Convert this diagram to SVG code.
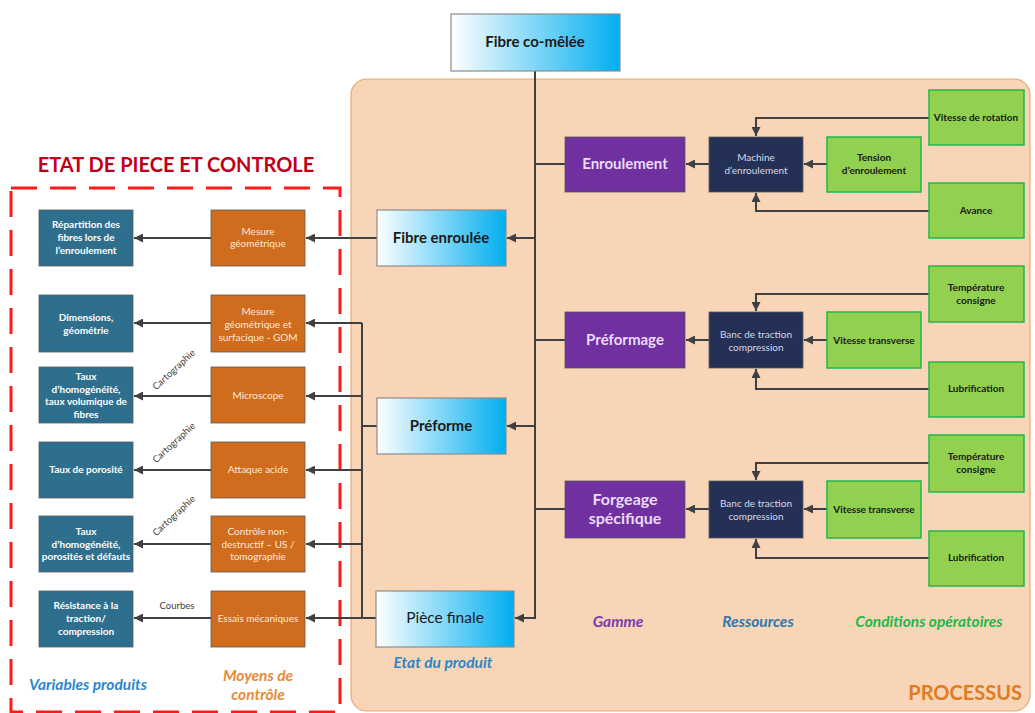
<svg xmlns="http://www.w3.org/2000/svg" width="1035" height="713" viewBox="0 0 1035 713">
<defs>
<linearGradient id="gBlue" x1="0" y1="0" x2="1" y2="0">
<stop offset="0" stop-color="#ffffff"/>
<stop offset="1" stop-color="#00aeef"/>
</linearGradient>
<marker id="arr" markerUnits="userSpaceOnUse" markerWidth="9" markerHeight="9" refX="9" refY="4.5" orient="auto">
<path d="M0,0 L9,4.5 L0,9 z" fill="#404040"/>
</marker>
</defs>
<style>
text{font-family:Lato,"Open Sans","Liberation Sans",sans-serif;text-anchor:middle}
.blue{fill:url(#gBlue);stroke:#8c8c8c;stroke-width:1.2}
.teal{fill:#2e6f8e;stroke:#5a5a5a;stroke-width:0.8}
.orng{fill:#d06c1e;stroke:#5a5a5a;stroke-width:0.8}
.purp{fill:#7030a0;stroke:#5a5a5a;stroke-width:0.8}
.navy{fill:#243056;stroke:#5a5a5a;stroke-width:0.8}
.grn{fill:#92d050;stroke:#1fb84c;stroke-width:1.5}
.tw{fill:#ffffff;font-size:10px;font-weight:700}
.to{fill:#fbe9da;font-size:10px;font-weight:400}
.tn{fill:#d8d8e6;font-size:10px;font-weight:400}
.tg{fill:#1a1a1a;font-size:10px;font-weight:700}
.tb{fill:#1a1a1a;font-size:15px;font-weight:700}
.tp{fill:#eadcf6;font-size:15px;font-weight:700}
.conn path{fill:none;stroke:#404040;stroke-width:2}
.lab{font-size:15.5px;font-weight:700;font-style:italic}
.carto{fill:#404040;font-size:9.5px}
</style>

<!-- backgrounds -->
<g id="processus">
<rect x="351" y="79" width="679" height="632" rx="16" fill="#f7d5b6" stroke="#eba871" stroke-width="1.2"/>
<text x="1022" y="700" style="text-anchor:end;font-size:20px;font-weight:700;fill:#e07b22">PROCESSUS</text>
</g>
<g id="etat-controle">
<rect x="11" y="188" width="329" height="524" fill="none" stroke="#ff1a1a" stroke-width="3" stroke-dasharray="26,13"/>
<text x="176" y="172" style="font-size:20px;font-weight:700;fill:#c00018">ETAT DE PIECE ET CONTROLE</text>
</g>

<!-- connectors -->
<g id="connectors" class="conn">
<path d="M535,71 V618 H515" marker-end="url(#arr)"/>
<path d="M535,164 H565"/>
<path d="M535,340 H565"/>
<path d="M535,509 H565"/>
<path d="M535,238 H507" marker-end="url(#arr)"/>
<path d="M535,426 H507" marker-end="url(#arr)"/>
<path d="M377,238 H306" marker-end="url(#arr)"/>
<path d="M211,238 H134" marker-end="url(#arr)"/>
<path d="M377,426 H362"/>
<path d="M362,323 V618"/>
<path d="M362,323 H306" marker-end="url(#arr)"/>
<path d="M362,396 H306" marker-end="url(#arr)"/>
<path d="M362,470 H306" marker-end="url(#arr)"/>
<path d="M362,544 H306" marker-end="url(#arr)"/>
<path d="M376,618 H306" marker-end="url(#arr)"/>
<path d="M211,323 H134" marker-end="url(#arr)"/>
<path d="M211,396 H134" marker-end="url(#arr)"/>
<path d="M211,470 H134" marker-end="url(#arr)"/>
<path d="M211,544 H134" marker-end="url(#arr)"/>
<path d="M211,618 H134" marker-end="url(#arr)"/>
<!-- enroulement -->
<path d="M709,164 H686" marker-end="url(#arr)"/>
<path d="M827,164 H804" marker-end="url(#arr)"/>
<path d="M929,118 H756 V136" marker-end="url(#arr)"/>
<path d="M929,211 H756 V193" marker-end="url(#arr)"/>
<!-- preformage -->
<path d="M709,340 H686" marker-end="url(#arr)"/>
<path d="M827,340 H804" marker-end="url(#arr)"/>
<path d="M929,294 H756 V311" marker-end="url(#arr)"/>
<path d="M929,389 H756 V369" marker-end="url(#arr)"/>
<!-- forgeage -->
<path d="M709,509 H686" marker-end="url(#arr)"/>
<path d="M827,509 H804" marker-end="url(#arr)"/>
<path d="M929,463 H756 V480" marker-end="url(#arr)"/>
<path d="M929,558 H756 V539" marker-end="url(#arr)"/>
<text class="carto" transform="translate(176,372) rotate(-43)">Cartographie</text>
<text class="carto" transform="translate(176,445) rotate(-43)">Cartographie</text>
<text class="carto" transform="translate(176,518) rotate(-43)">Cartographie</text>
<text class="carto" x="177" y="609">Courbes</text>
</g>

<!-- product state nodes -->
<g id="fibre-comelee"><rect class="blue" x="451" y="14" width="169" height="57"/><text class="tb" x="535" y="47">Fibre co-mêlée</text></g>
<g id="fibre-enroulee"><rect class="blue" x="377" y="210" width="129" height="56"/><text class="tb" x="441" y="243">Fibre enroulée</text></g>
<g id="preforme"><rect class="blue" x="377" y="398" width="129" height="56"/><text class="tb" x="441" y="431">Préforme</text></g>
<g id="piece-finale"><rect class="blue" x="376" y="591" width="138" height="56"/><text class="tb" x="445" y="623" style="font-weight:400;font-size:15.5px">Pièce finale</text></g>

<!-- variables produits -->
<g id="v-repartition"><rect class="teal" x="39" y="210" width="94" height="56"/><text class="tw" x="86" y="228">Répartition des</text><text class="tw" x="86" y="241">fibres lors de</text><text class="tw" x="86" y="254">l’enroulement</text></g>
<g id="v-dimensions"><rect class="teal" x="39" y="295" width="94" height="57"/><text class="tw" x="86" y="321">Dimensions,</text><text class="tw" x="86" y="334">géométrie</text></g>
<g id="v-homogeneite"><rect class="teal" x="39" y="367" width="94" height="56"/><text class="tw" x="86" y="380">Taux</text><text class="tw" x="86" y="393">d’homogénéité,</text><text class="tw" x="86" y="405">taux volumique de</text><text class="tw" x="86" y="418">fibres</text></g>
<g id="v-porosite"><rect class="teal" x="39" y="442" width="94" height="56"/><text class="tw" x="86" y="473">Taux de porosité</text></g>
<g id="v-defauts"><rect class="teal" x="39" y="516" width="94" height="56"/><text class="tw" x="86" y="535">Taux</text><text class="tw" x="86" y="548">d’homogénéité,</text><text class="tw" x="86" y="560">porosités et défauts</text></g>
<g id="v-resistance"><rect class="teal" x="39" y="591" width="94" height="56"/><text class="tw" x="86" y="609">Résistance à la</text><text class="tw" x="86" y="622">traction/</text><text class="tw" x="86" y="635">compression</text></g>

<!-- moyens de controle -->
<g id="m-mesure"><rect class="orng" x="211" y="210" width="94" height="56"/><text class="to" x="258" y="235">Mesure</text><text class="to" x="258" y="247">géométrique</text></g>
<g id="m-gom"><rect class="orng" x="211" y="295" width="94" height="57"/><text class="to" x="258" y="315">Mesure</text><text class="to" x="258" y="328">géométrique et</text><text class="to" x="258" y="341">surfacique - GOM</text></g>
<g id="m-microscope"><rect class="orng" x="211" y="367" width="94" height="56"/><text class="to" x="258" y="399">Microscope</text></g>
<g id="m-attaque"><rect class="orng" x="211" y="442" width="94" height="56"/><text class="to" x="258" y="473">Attaque acide</text></g>
<g id="m-cnd"><rect class="orng" x="211" y="516" width="94" height="56"/><text class="to" x="258" y="535">Contrôle non-</text><text class="to" x="258" y="548">destructif – US /</text><text class="to" x="258" y="560">tomographie</text></g>
<g id="m-essais"><rect class="orng" x="211" y="591" width="94" height="56"/><text class="to" x="258" y="622">Essais mécaniques</text></g>

<!-- gamme -->
<g id="g-enroulement"><rect class="purp" x="565" y="137" width="120" height="55"/><text class="tp" x="625" y="169">Enroulement</text></g>
<g id="g-preformage"><rect class="purp" x="565" y="312" width="120" height="56"/><text class="tp" x="625" y="345">Préformage</text></g>
<g id="g-forgeage"><rect class="purp" x="565" y="481" width="120" height="57"/><text class="tp" x="625" y="505" style="font-size:16px">Forgeage</text><text class="tp" x="625" y="524" style="font-size:16px">spécifique</text></g>

<!-- ressources -->
<g id="r-machine"><rect class="navy" x="709" y="137" width="94" height="55"/><text class="tn" x="756" y="161">Machine</text><text class="tn" x="756" y="174">d’enroulement</text></g>
<g id="r-banc1"><rect class="navy" x="709" y="312" width="94" height="56"/><text class="tn" x="756" y="338">Banc de traction</text><text class="tn" x="756" y="351">compression</text></g>
<g id="r-banc2"><rect class="navy" x="709" y="481" width="94" height="57"/><text class="tn" x="756" y="507">Banc de traction</text><text class="tn" x="756" y="520">compression</text></g>

<!-- conditions operatoires -->
<g id="c-vitrot"><rect class="grn" x="929" y="90" width="95" height="55"/><text class="tg" x="976" y="121">Vitesse de rotation</text></g>
<g id="c-tension"><rect class="grn" x="827" y="137" width="94" height="55"/><text class="tg" x="874" y="161">Tension</text><text class="tg" x="874" y="174">d’enroulement</text></g>
<g id="c-avance"><rect class="grn" x="929" y="183" width="95" height="55"/><text class="tg" x="976" y="214">Avance</text></g>
<g id="c-temp1"><rect class="grn" x="929" y="266" width="95" height="56"/><text class="tg" x="976" y="291">Température</text><text class="tg" x="976" y="304">consigne</text></g>
<g id="c-vit1"><rect class="grn" x="827" y="312" width="94" height="56"/><text class="tg" x="874" y="344">Vitesse transverse</text></g>
<g id="c-lub1"><rect class="grn" x="929" y="362" width="95" height="55"/><text class="tg" x="976" y="392">Lubrification</text></g>
<g id="c-temp2"><rect class="grn" x="929" y="435" width="95" height="57"/><text class="tg" x="976" y="460">Température</text><text class="tg" x="976" y="473">consigne</text></g>
<g id="c-vit2"><rect class="grn" x="827" y="481" width="94" height="57"/><text class="tg" x="874" y="513">Vitesse transverse</text></g>
<g id="c-lub2"><rect class="grn" x="929" y="531" width="95" height="55"/><text class="tg" x="976" y="561">Lubrification</text></g>

<!-- legends -->
<g id="legends">
<text class="lab" x="443" y="668" fill="#2e86c8">Etat du produit</text>
<text class="lab" x="88" y="690" fill="#2e86c8">Variables produits</text>
<text class="lab" x="258" y="681" fill="#e88a3a">Moyens de</text>
<text class="lab" x="258" y="700" fill="#e88a3a">contrôle</text>
<text class="lab" x="618" y="627" fill="#7b3bb0">Gamme</text>
<text class="lab" x="758" y="627" fill="#2e78b0">Ressources</text>
<text class="lab" x="929" y="627" fill="#1fb84c">Conditions opératoires</text>
</g>
</svg>
